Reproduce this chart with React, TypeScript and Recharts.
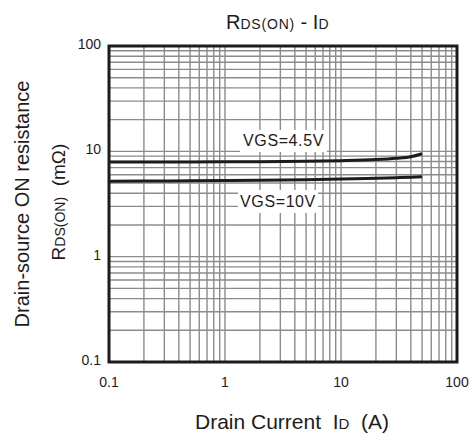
import React from 'react';
import { ComposedChart, Line, XAxis, YAxis, CartesianGrid, ReferenceArea } from 'recharts';

// Drain current (A)
const currentA = [0.1, 0.2, 0.5, 1, 2, 5, 10, 20, 30, 40, 50];
// RDS(ON) (mOhm) for VGS = 4.5 V
const rdsVgs45 = [7.9, 7.9, 7.92, 7.95, 7.98, 8.05, 8.15, 8.35, 8.6, 8.9, 9.5];
// RDS(ON) (mOhm) for VGS = 10 V
const rdsVgs10 = [5.2, 5.22, 5.25, 5.28, 5.32, 5.38, 5.45, 5.55, 5.62, 5.68, 5.75];

const seriesNames = ['VGS=4.5V', 'VGS=10V'];

const xGridTicks = [0.1, 0.2, 0.3, 0.4, 0.5, 0.6, 0.7, 0.8, 0.9, 1, 2, 3, 4, 5, 6, 7, 8, 9, 10, 20, 30, 40, 50, 60, 70, 80, 90, 100];
const yGridTicks = [0.1, 0.2, 0.3, 0.4, 0.5, 0.6, 0.7, 0.8, 0.9, 1, 2, 3, 4, 5, 6, 7, 8, 9, 10, 20, 30, 40, 50, 60, 70, 80, 90, 100];
const decadeLabels = [0.1, 1, 10, 100];

const data = currentA.map((id, i) => ({ id, v45: rdsVgs45[i], v10: rdsVgs10[i] }));

const FONT = '"Liberation Sans", Arial, sans-serif';
const INK = '#1c1c1c';

const XTick = (props: any) => {
  const { x, y, payload } = props;
  if (!decadeLabels.includes(payload.value)) return <g />;
  return (
    <text x={x} y={y} dy={17} textAnchor="middle" fontSize={14} fill={INK} fontFamily={FONT}>
      {String(payload.value)}
    </text>
  );
};

const YTick = (props: any) => {
  const { x, y, payload } = props;
  if (!decadeLabels.includes(payload.value)) return <g />;
  return (
    <text x={x} y={y} dy={3} textAnchor="end" fontSize={14} fill={INK} fontFamily={FONT}>
      {String(payload.value)}
    </text>
  );
};

const abs = (extra: React.CSSProperties): React.CSSProperties => ({
  position: 'absolute',
  whiteSpace: 'pre',
  fontFamily: FONT,
  color: INK,
  lineHeight: 1,
  ...extra,
});

export default function App() {
  return (
    <div style={{ position: 'absolute', left: 0, top: 0, width: 476, height: 436, background: '#fff' }}>
      <ComposedChart width={476} height={436} data={data} margin={{ top: 46, right: 19, bottom: 0, left: 0 }}>
        <CartesianGrid stroke="#8c8c8c" strokeWidth={1.4} />
        <XAxis
          dataKey="id"
          type="number"
          scale="log"
          domain={[0.1, 100]}
          ticks={xGridTicks}
          interval={0}
          allowDataOverflow
          axisLine={false}
          tickLine={false}
          height={74}
          tick={<XTick />}
        />
        <YAxis
          type="number"
          scale="log"
          domain={[0.1, 100]}
          ticks={yGridTicks}
          interval={0}
          allowDataOverflow
          axisLine={false}
          tickLine={false}
          width={109}
          tick={<YTick />}
        />
        <Line dataKey="v45" name={seriesNames[0]} type="monotone" stroke={INK} strokeWidth={3} dot={false} isAnimationActive={false} />
        <Line dataKey="v10" name={seriesNames[1]} type="monotone" stroke={INK} strokeWidth={3} dot={false} isAnimationActive={false} />
        <ReferenceArea x1={0.1} x2={100} y1={0.1} y2={100} fill="none" fillOpacity={0} stroke={INK} strokeWidth={3} ifOverflow="visible" />
      </ComposedChart>

      {/* Title */}
      <div style={abs({ left: 226, top: 12, fontSize: 20 })}>
        R<span style={{ fontSize: 14, letterSpacing: 0.8 }}>DS(ON)</span>{' - I'}<span style={{ fontSize: 14 }}>D</span>
      </div>

      {/* Series labels */}
      <div style={abs({ left: 240, top: 130, width: 87, height: 22, background: '#fff', display: 'flex', alignItems: 'center', justifyContent: 'center', fontSize: 16, letterSpacing: 0.6 })}>
        {seriesNames[0]}
      </div>
      <div style={abs({ left: 238, top: 190, width: 80, height: 23, background: '#fff', display: 'flex', alignItems: 'center', justifyContent: 'center', fontSize: 16, letterSpacing: 0.6 })}>
        {seriesNames[1]}
      </div>

      {/* Y axis labels */}
      <div style={abs({ left: 22, top: 204, transform: 'translate(-50%,-50%) rotate(-90deg)', fontSize: 20 })}>
        Drain-source ON resistance
      </div>
      <div style={abs({ left: 58, top: 202, transform: 'translate(-50%,-50%) rotate(-90deg)', fontSize: 19 })}>
        R<span style={{ fontSize: 14 }}>DS(ON)</span>{'  (m\u03A9)'}
      </div>

      {/* X axis label */}
      <div style={abs({ left: 292, top: 421, transform: 'translate(-50%,-50%)', fontSize: 21 })}>
        {'Drain Current  I'}<span style={{ fontSize: 15 }}>D</span>{'  (A)'}
      </div>
    </div>
  );
}
